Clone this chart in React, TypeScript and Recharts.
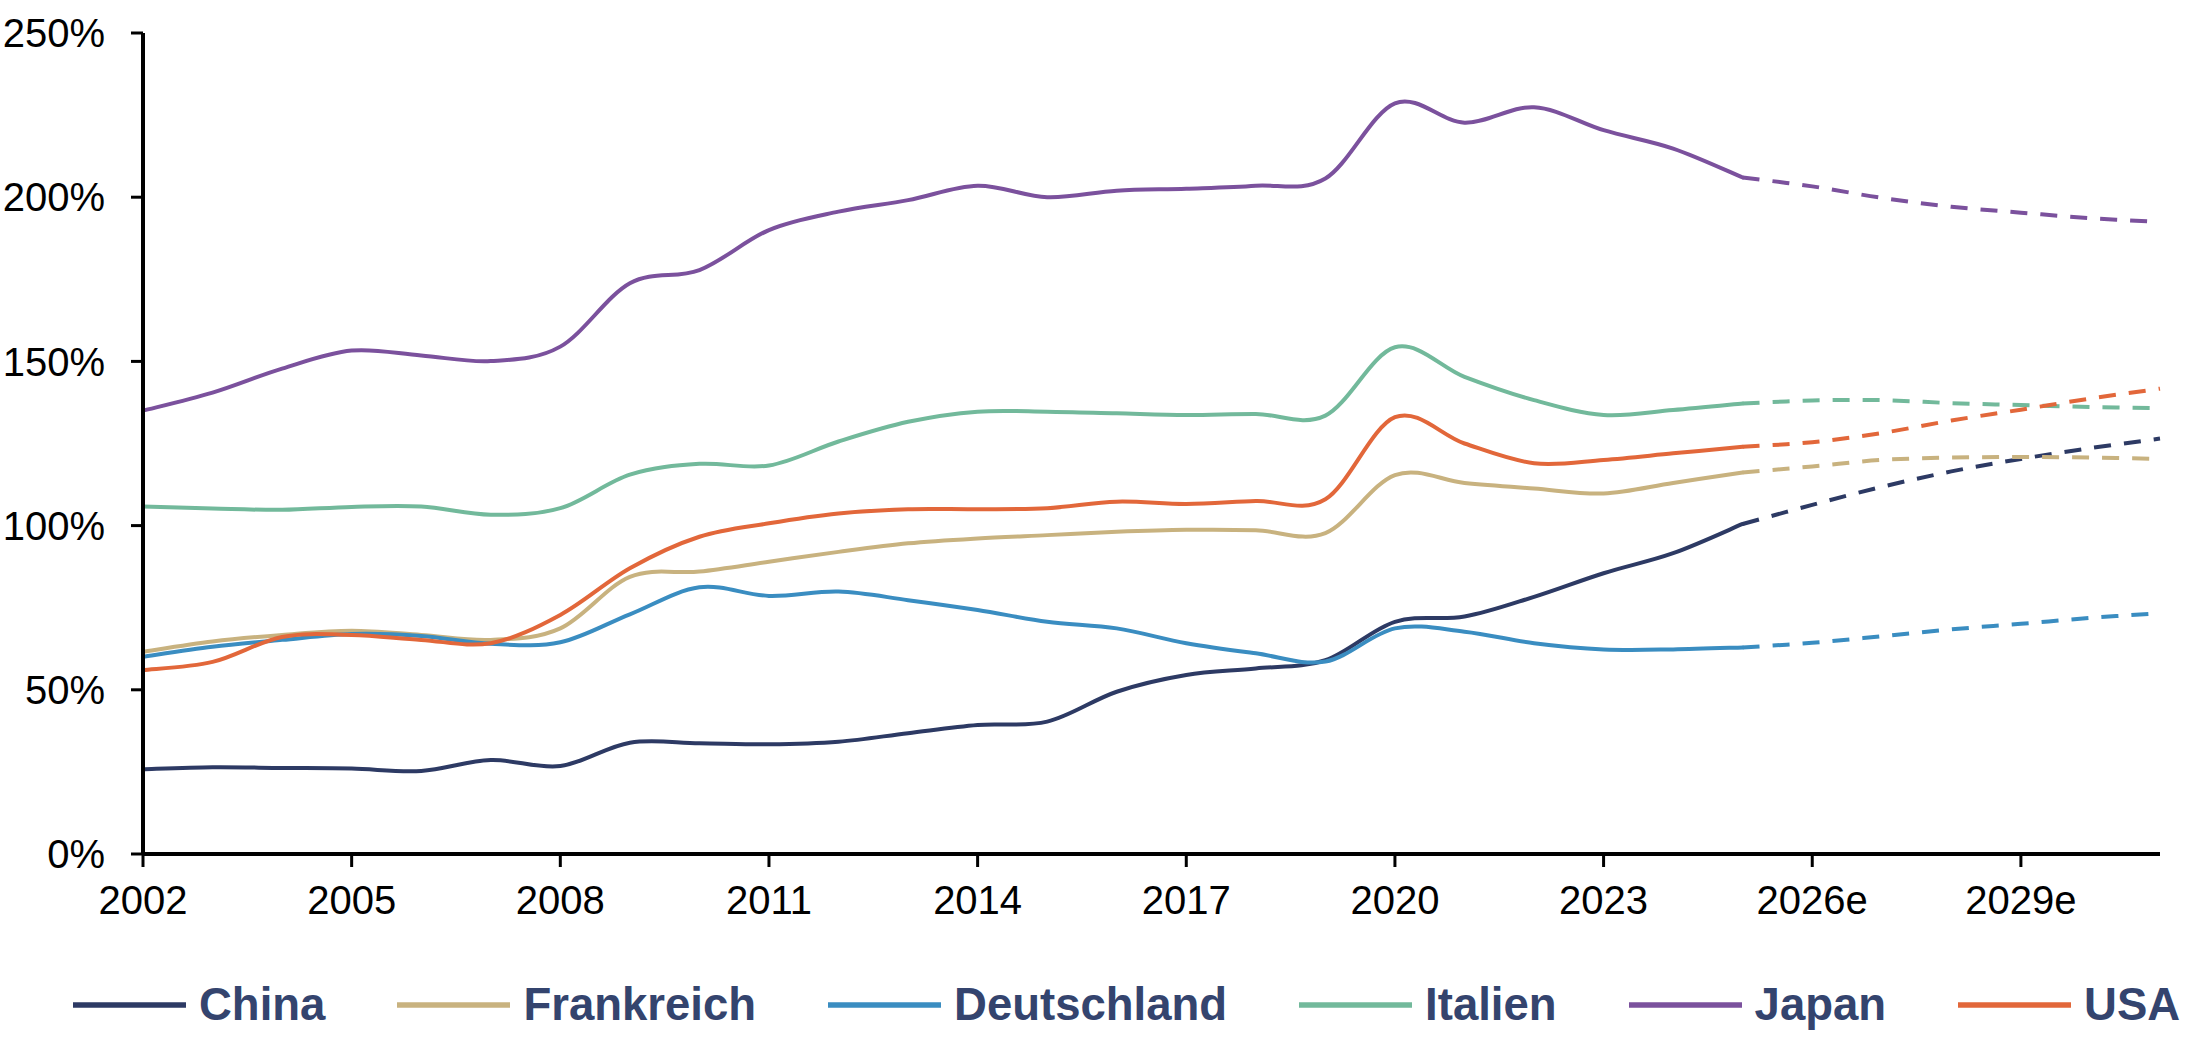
import React from 'react';
import { LineChart, Line, XAxis, YAxis, Legend } from 'recharts';

const years = [
  '2002', '2003', '2004', '2005', '2006', '2007', '2008', '2009', '2010', '2011',
  '2012', '2013', '2014', '2015', '2016', '2017', '2018', '2019', '2020', '2021',
  '2022', '2023', '2024', '2025', '2026e', '2027e', '2028e', '2029e', '2030e', '2031e',
];
const yTicks = [0, 50, 100, 150, 200, 250];

// actual values 2002-2025
const chinaActual = [25.8, 26.4, 26.2, 26.0, 25.3, 28.6, 26.8, 33.9, 33.7, 33.4, 34.2, 36.8, 39.3, 40.3, 49.4, 54.5, 56.5, 59.0, 70.7, 72.3, 78.3, 85.5, 91.6, 100.5];
const frankreichActual = [61.6, 64.7, 66.7, 68.0, 66.7, 65.2, 68.7, 84.4, 86.0, 89.0, 92.0, 94.6, 96.1, 97.1, 98.1, 98.7, 98.6, 97.7, 115.4, 113.0, 111.3, 109.8, 113.0, 116.2];
const deutschlandActual = [60.1, 63.1, 65.2, 67.0, 66.4, 64.0, 64.5, 73.0, 81.2, 78.6, 79.9, 77.3, 74.3, 70.7, 68.7, 64.2, 61.1, 58.6, 68.7, 67.7, 64.2, 62.3, 62.3, 62.9];
const italienActual = [105.8, 105.2, 104.8, 105.7, 105.8, 103.3, 105.3, 115.5, 118.8, 118.3, 125.6, 131.6, 134.7, 134.7, 134.2, 133.7, 134.0, 133.5, 154.3, 145.3, 138.2, 133.7, 135.2, 137.2];
const japanActual = [135.0, 140.5, 147.8, 153.3, 151.8, 150.1, 154.5, 173.8, 177.8, 190.0, 195.6, 199.1, 203.5, 200.0, 202.0, 202.6, 203.5, 205.7, 228.6, 222.7, 227.4, 220.4, 214.8, 206.0];
const usaActual = [56.0, 58.5, 66.1, 66.7, 65.2, 64.2, 72.8, 87.0, 96.6, 100.7, 103.7, 105.0, 105.0, 105.3, 107.3, 106.6, 107.5, 108.0, 133.0, 125.0, 119.0, 120.0, 122.0, 124.0];

// forecast values 2025-2031e
const chinaForecast = [100.5, 106.3, 111.8, 116.5, 120.3, 123.6, 126.5];
const frankreichForecast = [116.2, 118.0, 120.0, 120.7, 120.9, 120.7, 120.3];
const deutschlandForecast = [62.9, 64.3, 66.3, 68.4, 70.1, 71.9, 73.3];
const italienForecast = [137.2, 138.1, 138.2, 137.3, 136.7, 136.1, 135.8];
const japanForecast = [206.0, 203.3, 199.8, 197.1, 195.3, 193.6, 192.5];
const usaForecast = [124.0, 125.4, 128.2, 132.0, 135.3, 138.7, 141.7];

const FORECAST_START = 23; // index of 2025

const series = [
  { key: 'china', name: 'China', color: '#2D3A64', actual: chinaActual, forecast: chinaForecast },
  { key: 'frankreich', name: 'Frankreich', color: '#C8B27F', actual: frankreichActual, forecast: frankreichForecast },
  { key: 'deutschland', name: 'Deutschland', color: '#3A8DC1', actual: deutschlandActual, forecast: deutschlandForecast },
  { key: 'italien', name: 'Italien', color: '#72B99B', actual: italienActual, forecast: italienForecast },
  { key: 'japan', name: 'Japan', color: '#7B519D', actual: japanActual, forecast: japanForecast },
  { key: 'usa', name: 'USA', color: '#E2673A', actual: usaActual, forecast: usaForecast },
];

const data = years.map((year, i) => {
  const row: Record<string, any> = { year };
  series.forEach((s) => {
    row[s.key] = i < s.actual.length ? s.actual[i] : null;
    row[s.key + 'F'] = i >= FORECAST_START ? s.forecast[i - FORECAST_START] : null;
  });
  return row;
});

// Catmull-Rom style smoothing (similar to spreadsheet "smoothed line")
function smoothCurve(context: any) {
  let pts: number[][] = [];
  return {
    areaStart() {},
    areaEnd() {},
    lineStart() {
      pts = [];
    },
    point(x: number, y: number) {
      pts.push([+x, +y]);
    },
    lineEnd() {
      if (!pts.length) return;
      context.moveTo(pts[0][0], pts[0][1]);
      for (let i = 0; i < pts.length - 1; i++) {
        const p0 = pts[i - 1] || pts[i];
        const p1 = pts[i];
        const p2 = pts[i + 1];
        const p3 = pts[i + 2] || p2;
        context.bezierCurveTo(
          p1[0] + (p2[0] - p0[0]) / 6,
          p1[1] + (p2[1] - p0[1]) / 6,
          p2[0] - (p3[0] - p1[0]) / 6,
          p2[1] - (p3[1] - p1[1]) / 6,
          p2[0],
          p2[1]
        );
      }
    },
  };
}

const FONT = '"Liberation Sans", Arial, Helvetica, sans-serif';

const LegendContent = () => (
  <div
    style={{
      display: 'flex',
      alignItems: 'center',
      height: 80,
      paddingLeft: 73,
      fontFamily: FONT,
    }}
  >
    {series.map((s) => (
      <div key={s.key} style={{ display: 'flex', alignItems: 'center', marginRight: 72 }}>
        <svg width={113} height={10} style={{ display: 'block' }}>
          <line x1={0} y1={5} x2={113} y2={5} stroke={s.color} strokeWidth={5.5} />
        </svg>
        <span
          style={{
            marginLeft: 13,
            fontSize: 45.5,
            fontWeight: 'bold',
            color: '#34446E',
            lineHeight: '52px',
            whiteSpace: 'nowrap',
          }}
        >
          {s.name}
        </span>
      </div>
    ))}
  </div>
);

export default function App() {
  return (
    <div style={{ position: 'absolute', left: 0, top: 0, width: 2202, height: 1040, background: '#fff' }}>
      <LineChart
        width={2202}
        height={1040}
        data={data}
        margin={{ top: 33, right: 42, bottom: 46, left: 13 }}
      >
        <XAxis
          dataKey="year"
          interval={2}
          height={60}
          axisLine={{ stroke: '#000', strokeWidth: 4 }}
          tickLine={{ stroke: '#000', strokeWidth: 3 }}
          tickSize={13}
          tickMargin={19}
          tick={{ fontSize: 40, fill: '#000', fontFamily: FONT }}
        />
        <YAxis
          domain={[0, 250]}
          ticks={yTicks}
          width={130}
          tickFormatter={(v: number) => `${v}%`}
          axisLine={{ stroke: '#000', strokeWidth: 4 }}
          tickLine={{ stroke: '#000', strokeWidth: 3 }}
          tickSize={12}
          tickMargin={26}
          tick={{ fontSize: 40, fill: '#000', fontFamily: FONT }}
        />
        <Legend
          verticalAlign="bottom"
          content={() => <LegendContent />}
          wrapperStyle={{ position: 'absolute', left: 0, top: 965, width: 2202, height: 80 }}
        />
        {series.map((s) => (
          <Line
            key={s.key}
            dataKey={s.key}
            name={s.name}
            type={smoothCurve as any}
            stroke={s.color}
            strokeWidth={4}
            dot={false}
            activeDot={false}
            isAnimationActive={false}
            connectNulls={false}
            strokeLinecap="round"
          />
        ))}
        {series.map((s) => (
          <Line
            key={s.key + 'F'}
            dataKey={s.key + 'F'}
            name={s.name + ' (e)'}
            type={smoothCurve as any}
            stroke={s.color}
            strokeWidth={4}
            strokeDasharray="17 13"
            dot={false}
            activeDot={false}
            isAnimationActive={false}
            connectNulls={false}
            legendType="none"
          />
        ))}
      </LineChart>
    </div>
  );
}
